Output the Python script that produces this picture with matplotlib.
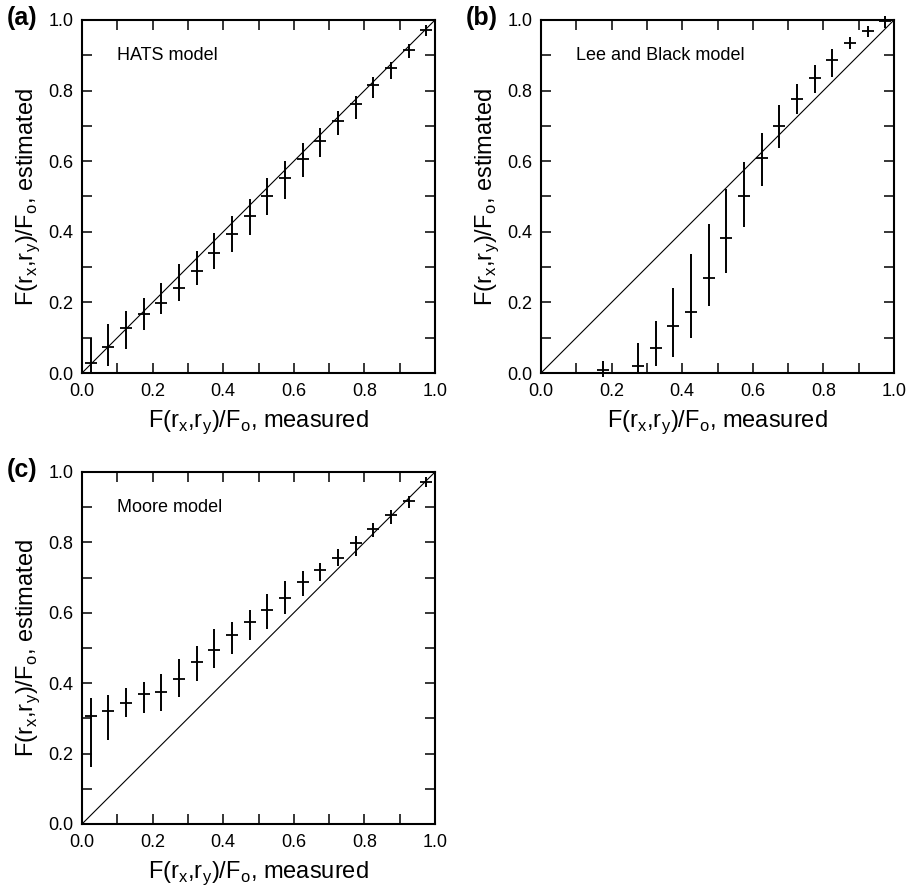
import numpy as np
import matplotlib
matplotlib.use("Agg")
import matplotlib.pyplot as plt
from matplotlib.ticker import MultipleLocator, FormatStrFormatter

plt.rcParams['font.family'] = ['Liberation Sans', 'DejaVu Sans']
plt.rcParams['mathtext.fontset'] = 'custom'
plt.rcParams['mathtext.rm'] = 'Liberation Sans'

# ---- data ----
measured = [0.025, 0.075, 0.125, 0.175, 0.225, 0.275, 0.325, 0.375, 0.425, 0.475,
            0.525, 0.575, 0.625, 0.675, 0.725, 0.775, 0.825, 0.875, 0.925, 0.975]

hats_est = [0.027, 0.075, 0.128, 0.166, 0.198, 0.240, 0.288, 0.341, 0.393, 0.445,
            0.500, 0.553, 0.605, 0.657, 0.713, 0.763, 0.816, 0.863, 0.915, 0.972]
hats_hi = [0.098, 0.139, 0.177, 0.212, 0.254, 0.309, 0.347, 0.397, 0.445, 0.494,
           0.553, 0.600, 0.652, 0.693, 0.743, 0.784, 0.839, 0.880, 0.931, 0.986]
hats_lo = [0.000, 0.021, 0.068, 0.123, 0.167, 0.203, 0.248, 0.295, 0.342, 0.390,
           0.447, 0.494, 0.556, 0.612, 0.674, 0.719, 0.780, 0.833, 0.891, 0.955]

nan = float('nan')
lb_est = [nan, nan, nan, 0.009, nan, 0.021, 0.070, 0.134, 0.174, 0.269,
          0.382, 0.500, 0.609, 0.699, 0.776, 0.837, 0.888, 0.934, 0.969, 0.998]
lb_hi = [nan, nan, nan, 0.035, nan, 0.084, 0.146, 0.240, 0.336, 0.421,
         0.522, 0.598, 0.681, 0.759, 0.818, 0.872, 0.917, 0.953, 0.984, 1.010]
lb_lo = [nan, nan, nan, -0.010, nan, 0.000, 0.019, 0.044, 0.098, 0.189,
         0.283, 0.413, 0.530, 0.636, 0.733, 0.794, 0.839, 0.917, 0.953, 0.978]

moore_est = [0.307, 0.321, 0.345, 0.368, 0.374, 0.412, 0.459, 0.494, 0.536, 0.574,
             0.607, 0.643, 0.688, 0.721, 0.757, 0.798, 0.839, 0.877, 0.917, 0.972]
moore_hi = [0.359, 0.366, 0.385, 0.402, 0.426, 0.470, 0.505, 0.553, 0.574, 0.609,
            0.652, 0.690, 0.719, 0.742, 0.782, 0.817, 0.856, 0.891, 0.932, 0.986]
moore_lo = [0.161, 0.238, 0.303, 0.314, 0.322, 0.360, 0.406, 0.442, 0.482, 0.522,
            0.555, 0.598, 0.647, 0.690, 0.732, 0.761, 0.814, 0.851, 0.899, 0.956]

panels = [
    ("(a)", "HATS model", hats_est, hats_lo, hats_hi),
    ("(b)", "Lee and Black model", lb_est, lb_lo, lb_hi),
    ("(c)", "Moore model", moore_est, moore_lo, moore_hi),
]

W, H = 915, 896
fig = plt.figure(figsize=(W / 100, H / 100), dpi=100)

# axes boxes in pixels: left, top, right, bottom
boxes = [(82, 20, 435, 373), (541, 20, 894, 373), (82, 472, 435, 824)]

xlab = r'F(r$_{\mathregular{x}}$,r$_{\mathregular{y}}$)/F$_{\mathregular{o}}$, measured'
ylab = r'F(r$_{\mathregular{x}}$,r$_{\mathregular{y}}$)/F$_{\mathregular{o}}$, estimated'

for (tag, name, est, lo, hi), (l, t, r, b) in zip(panels, boxes):
    ax = fig.add_axes([l / W, 1 - b / H, (r - l) / W, (b - t) / H])
    x = np.array(measured)
    y = np.array(est)
    ylo = np.array(lo)
    yhi = np.array(hi)
    ax.plot([0, 1], [0, 1], color='black', lw=0.8)
    ax.vlines(x, ylo, yhi, color='black', lw=1.4, clip_on=False)
    ax.plot(x, y, ls='none', marker='_', ms=8, mew=1.3, color='black', clip_on=False)
    ax.set_xlim(0, 1)
    ax.set_ylim(0, 1)
    ax.xaxis.set_major_locator(MultipleLocator(0.2))
    ax.yaxis.set_major_locator(MultipleLocator(0.2))
    ax.xaxis.set_minor_locator(MultipleLocator(0.1))
    ax.yaxis.set_minor_locator(MultipleLocator(0.1))
    ax.xaxis.set_major_formatter(FormatStrFormatter('%.1f'))
    ax.yaxis.set_major_formatter(FormatStrFormatter('%.1f'))
    ax.tick_params(which='both', direction='in', top=True, right=True,
                   length=7, width=1.1, labelsize=13)
    ax.tick_params(axis='x', which='major', pad=7)
    ax.tick_params(axis='y', which='major', pad=6)
    for s in ax.spines.values():
        s.set_linewidth(1.5)
    ax.set_xlabel(xlab, fontsize=17, labelpad=6)
    ax.set_ylabel(ylab, fontsize=17, labelpad=5)
    ax.text(0.1, 0.9, name, fontsize=13, ha='left', va='center')
    fig.text((l - 75) / W, 1 - (t - 2) / H, tag, fontsize=18, fontweight='bold',
             ha='left', va='center')

fig.savefig("out.png", dpi=100)
